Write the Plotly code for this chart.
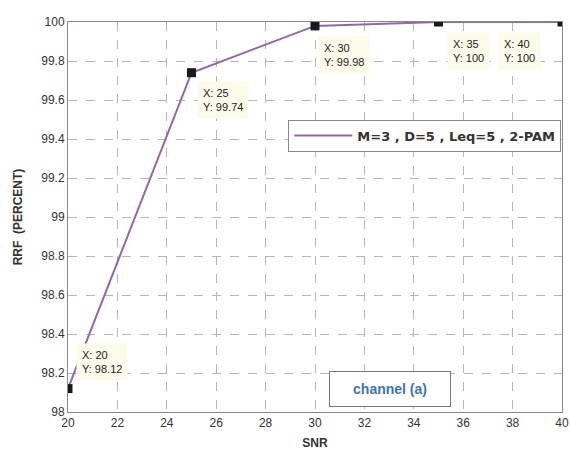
import plotly.graph_objects as go

snr = [20, 25, 30, 35, 40]
rrf = [98.12, 99.74, 99.98, 100, 100]
tip_labels = ["X: 20<br>Y: 98.12", "X: 25<br>Y: 99.74", "X: 30<br>Y: 99.98",
              "X: 35<br>Y: 100", "X: 40<br>Y: 100"]
x_ticks = [20, 22, 24, 26, 28, 30, 32, 34, 36, 38, 40]
y_ticks = [98, 98.2, 98.4, 98.6, 98.8, 99, 99.2, 99.4, 99.6, 99.8, 100]
y_tick_text = ["98", "98.2", "98.4", "98.6", "98.8", "99", "99.2", "99.4", "99.6", "99.8", "100"]
legend_name = "M=3 , D=5 , Leq=5 , 2-PAM"

fig = go.Figure()
fig.add_trace(go.Scatter(x=snr, y=rrf, mode="lines", name="<b>" + legend_name + "</b>",
                         line=dict(color="#9466a8", width=2)))
fig.add_trace(go.Scatter(x=snr, y=rrf, mode="markers", showlegend=False,
                         marker=dict(symbol="square", size=9, color="#1a1a1a")))

# data tips: (xanchor, yanchor, xshift, yshift)
tip_pos = [("left", "bottom", 8, 8), ("left", "top", 5, -8), ("left", "top", 3, -10),
           ("left", "top", 8, -10), ("right", "top", -21, -10)]
for xv, yv, t, (xa, ya, xs, ys) in zip(snr, rrf, tip_labels, tip_pos):
    fig.add_annotation(x=xv, y=yv, xref="x", yref="y", text=t, showarrow=False,
                       xanchor=xa, yanchor=ya, xshift=xs, yshift=ys, align="left",
                       font=dict(family="Liberation Sans, Arial", size=11, color="#222"),
                       bgcolor="#fcfbea", borderpad=5, bordercolor="rgba(0,0,0,0)")

fig.add_annotation(x=0.652, y=0.059, xref="paper", yref="paper", text="<b>channel (a)</b>",
                   showarrow=False, xanchor="center", yanchor="middle",
                   width=108, height=22,
                   font=dict(family="Liberation Sans, Arial", size=14, color="#3d74b8"),
                   bgcolor="white", bordercolor="#777", borderwidth=1, borderpad=6)

axis_common = dict(showgrid=True, gridcolor="#b5b5b5", griddash="dash", gridwidth=1,
                   showline=True, linecolor="#888", linewidth=1, mirror=True,
                   ticks="", tickfont=dict(family="Liberation Sans, Arial", size=12, color="#333"),
                   zeroline=False, automargin=False)

fig.update_layout(
    width=571, height=450,
    margin=dict(l=68, r=9, t=22, b=38),
    paper_bgcolor="white", plot_bgcolor="white",
    hovermode=False,
    xaxis=dict(range=[20, 40], tickvals=x_ticks,
               title=dict(text="<b>SNR</b>", standoff=9,
                          font=dict(family="Liberation Sans, Arial", size=12, color="#333")),
               **axis_common),
    yaxis=dict(range=[98, 100], tickvals=y_ticks, ticktext=y_tick_text,
               title=dict(text="<b>RRF  (PERCENT)</b>", standoff=16,
                          font=dict(family="Liberation Sans, Arial", size=12, color="#333")),
               **axis_common),
    legend=dict(x=0.446, y=0.75, xanchor="left", yanchor="top",
                bgcolor="white", bordercolor="#888", borderwidth=1, itemwidth=58,
                font=dict(family="DejaVu Sans", size=13, color="#333")),
    showlegend=True,
)

fig.write_html("out.html", config={"displayModeBar": False},
               post_script="document.body.style.margin='0';document.body.style.overflow='hidden';")
